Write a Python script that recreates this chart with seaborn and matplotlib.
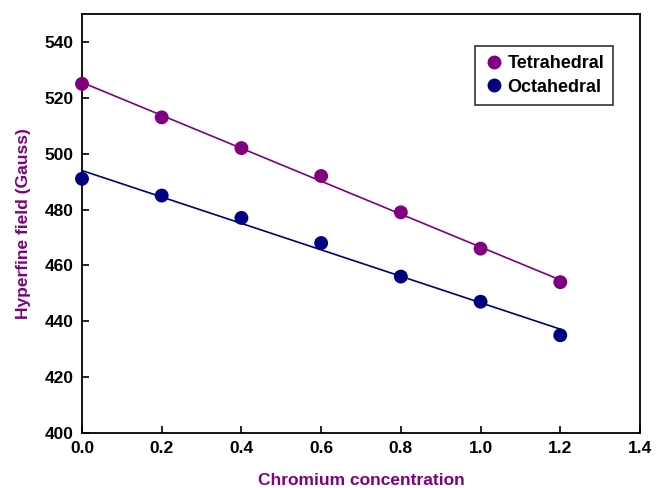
import numpy as np
import pandas as pd
import seaborn as sns
import matplotlib.pyplot as plt

sns.set_theme(style="white")
plt.rcParams['font.family'] = ['Liberation Sans', 'DejaVu Sans']
plt.rcParams['text.color'] = 'black'

concentration = [0.0, 0.2, 0.4, 0.6, 0.8, 1.0, 1.2]
tetrahedral = [525, 513, 502, 492, 479, 466, 454]
octahedral = [491, 485, 477, 468, 456, 447, 435]

df = pd.DataFrame({
    "x": concentration * 2,
    "field": tetrahedral + octahedral,
    "site": ["Tetrahedral"] * 7 + ["Octahedral"] * 7,
})
colors = {"Tetrahedral": "#800080", "Octahedral": "#000080"}

fig = plt.figure(figsize=(6.56, 4.88), dpi=100)
ax = fig.add_axes([0.125, 0.1127, 0.8506, 0.8586])

for site, c in colors.items():
    sns.regplot(data=df[df.site == site], x="x", y="field", scatter=False,
                ci=None, truncate=True, color=c, line_kws={"lw": 1.2}, ax=ax)

sns.scatterplot(data=df, x="x", y="field", hue="site", palette=colors,
                s=100, edgecolor="none", ax=ax, zorder=3, clip_on=False)

ax.set_xlim(0, 1.4)
ax.set_ylim(400, 550)
ax.set_xticks(np.arange(0, 1.41, 0.2))
ax.set_yticks(np.arange(400, 541, 20))
ax.set_xticklabels([f"{v:.1f}" for v in np.arange(0, 1.41, 0.2)])
ax.tick_params(direction="in", length=5, width=1.2, labelsize=12.5, pad=6,
               bottom=True, left=True, colors="black")
for lab in ax.get_xticklabels() + ax.get_yticklabels():
    lab.set_fontweight("bold")
for sp in ax.spines.values():
    sp.set_color("black")
    sp.set_linewidth(1.3)

ax.set_xlabel("Chromium concentration", color="#800080", fontsize=12.5,
              fontweight="bold", labelpad=12)
ax.set_ylabel("Hyperfine field (Gauss)", color="#800080", fontsize=12.5,
              fontweight="bold", labelpad=10)

leg = ax.legend(loc="upper right", bbox_to_anchor=(0.952, 0.924), borderaxespad=0,
                frameon=True, fancybox=False, edgecolor="black",
                prop={"weight": "bold", "size": 13},
                handletextpad=0.2, borderpad=0.5, labelspacing=0.38, markerscale=1.0,
                handlelength=1.1)
leg.get_frame().set_linewidth(1.2)
for t in leg.get_texts():
    t.set_color("black")

fig.savefig("out.png", dpi=100)
